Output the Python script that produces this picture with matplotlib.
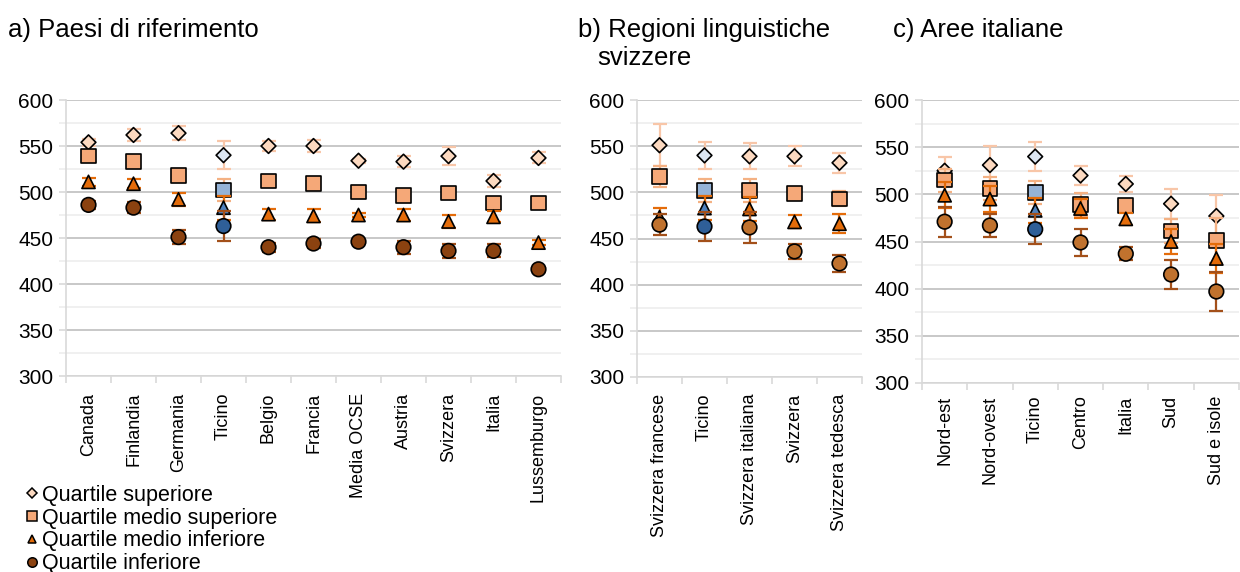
import numpy as np
import matplotlib.pyplot as plt
from matplotlib.lines import Line2D
from matplotlib.ticker import MultipleLocator

plt.rcParams["font.family"] = ["Liberation Sans", "DejaVu Sans"]

# ---- data ----
series = ["Quartile superiore", "Quartile medio superiore",
          "Quartile medio inferiore", "Quartile inferiore"]

cat_a = ["Canada", "Finlandia", "Germania", "Ticino", "Belgio", "Francia",
         "Media OCSE", "Austria", "Svizzera", "Italia", "Lussemburgo"]
sup_a = [554, 562, 564, 540, 550, 550, 534, 533, 539, 512, 537]
msup_a = [539, 533, 518, 502, 512, 509, 500, 496, 499, 488, 488]
minf_a = [511, 509, 492, 483, 476, 474, 475, 475, 468, 473, 445]
inf_a = [486, 483, 451, 463, 440, 444, 446, 440, 436, 436, 416]
err_sup_a = [4, 7, 8, 15, 5, 7, 2, 6, 10, 7, 6]
err_msup_a = [3, 3, 7, 12, 3, 3, 2, 3, 3, 4, 3]
err_minf_a = [4, 5, 7, 13, 6, 7, 2, 7, 7, 6, 3]
err_inf_a = [4, 6, 8, 16, 5, 5, 2, 7, 8, 7, 3]

cat_b = ["Svizzera francese", "Ticino", "Svizzera italiana", "Svizzera",
         "Svizzera tedesca"]
sup_b = [551, 540, 539, 539, 532]
msup_b = [517, 502, 502, 499, 493]
minf_b = [473, 483, 482, 468, 466]
inf_b = [465, 463, 462, 436, 423]
err_sup_b = [23, 15, 14, 11, 11]
err_msup_b = [11, 12, 12, 3, 8]
err_minf_b = [10, 13, 13, 7, 10]
err_inf_b = [11, 16, 17, 8, 9]

cat_c = ["Nord-est", "Nord-ovest", "Ticino", "Centro", "Italia", "Sud",
         "Sud e isole"]
sup_c = [525, 531, 540, 520, 511, 490, 477]
msup_c = [515, 506, 502, 489, 488, 461, 451]
minf_c = [499, 495, 483, 485, 474, 450, 432]
inf_c = [471, 467, 463, 449, 437, 415, 397]
err_sup_c = [15, 20, 15, 10, 8, 16, 22]
err_msup_c = [12, 12, 12, 12, 4, 13, 24]
err_minf_c = [14, 14, 13, 10, 6, 13, 15]
err_inf_c = [16, 12, 16, 14, 7, 15, 21]

# ---- styles ----
markers = ["D", "s", "^", "o"]
msizes = [7.5, 10.5, 9.5, 10.5]
fill_orange = ["#FCD9C0", "#F5A878", "#E46C0A", "#8B4210"]
fill_orange_bc = ["#FCD9C0", "#F5A878", "#E46C0A", "#C0722E"]
fill_blue = ["#DCE6F2", "#95B3D7", "#4F81BD", "#2F5F98"]
err_colors = ["#F8C6A8", "#F4B183", "#E46C0A", "#A3501A"]

W, H = 1240, 572
fig = plt.figure(figsize=(W / 100, H / 100), dpi=100)


def add_ax(left, right, top, bottom):
    return fig.add_axes([left / W, 1 - bottom / H, (right - left) / W, (bottom - top) / H])


def draw_panel(ax, cats, vals, errs, fills, pad):
    x = np.arange(len(cats))
    for k in range(4):
        ax.errorbar(x, vals[k], yerr=errs[k], fmt="none", ecolor=err_colors[k],
                    elinewidth=1.6, capsize=5, capthick=1.6, zorder=3 + 2 * k)
        face = [fill_blue[k] if c == "Ticino" else fills[k] for c in cats]
        ax.scatter(x, vals[k], marker=markers[k], s=msizes[k] ** 2, c=face,
                   edgecolors="black", linewidths=1.2, zorder=4 + 2 * k)
    ax.set_xlim(-0.5, len(cats) - 0.5)
    ax.set_ylim(300, 600)
    ax.yaxis.set_major_locator(MultipleLocator(50))
    ax.yaxis.set_minor_locator(MultipleLocator(25))
    ax.grid(axis="y", which="major", color="#BFBFBF", lw=1.2)
    ax.grid(axis="y", which="minor", color="#EDEDED", lw=1.2)
    ax.set_axisbelow(True)
    ax.set_xticks(x)
    ax.set_xticklabels(cats, rotation=90, fontsize=13, va="top", ha="center")
    ax.set_xticks(np.arange(len(cats) + 1) - 0.5, minor=True)
    ax.tick_params(axis="x", which="major", length=0, pad=pad)
    ax.tick_params(axis="x", which="minor", length=5, color="#D9D9D9", width=1.2)
    ax.tick_params(axis="y", which="major", length=5, color="#D9D9D9", width=1.2,
                   labelsize=15, pad=4)
    ax.tick_params(axis="y", which="minor", length=5, color="#EDEDED", width=1.2)
    for s in ["top", "right"]:
        ax.spines[s].set_visible(False)
    for s in ["left", "bottom"]:
        ax.spines[s].set_color("#D9D9D9")
        ax.spines[s].set_linewidth(1.2)


ax_a = add_ax(66, 561, 100, 376)
draw_panel(ax_a, cat_a, [sup_a, msup_a, minf_a, inf_a],
           [err_sup_a, err_msup_a, err_minf_a, err_inf_a], fill_orange, 12)

ax_b = add_ax(637, 862, 100, 377)
draw_panel(ax_b, cat_b, [sup_b, msup_b, minf_b, inf_b],
           [err_sup_b, err_msup_b, err_minf_b, err_inf_b], fill_orange_bc, 12)

ax_c = add_ax(922, 1239, 100, 383)
draw_panel(ax_c, cat_c, [sup_c, msup_c, minf_c, inf_c],
           [err_sup_c, err_msup_c, err_minf_c, err_inf_c], fill_orange_bc, 9)

# titles
tsize = 18.5
fig.text(8 / W, 1 - 30 / H, "a) Paesi di riferimento", fontsize=tsize, va="center")
fig.text(578 / W, 1 - 30 / H, "b) Regioni linguistiche", fontsize=tsize, va="center")
fig.text(597 / W, 1 - 58 / H, "svizzere", fontsize=tsize, va="center")
fig.text(893 / W, 1 - 30 / H, "c) Aree italiane", fontsize=tsize, va="center")

# legend
handles = [Line2D([], [], ls="none", marker=markers[k], markersize=msizes[k] * 0.65,
                  markerfacecolor=fill_orange[k], markeredgecolor="black",
                  markeredgewidth=1.1) for k in range(4)]
fig.legend(handles, series, loc="upper left", bbox_to_anchor=(27 / W, 1 - 485 / H),
           frameon=False, fontsize=15.5, handlelength=0.5, handletextpad=0.2,
           labelspacing=0.08, borderaxespad=0, borderpad=0)

fig.savefig("out.png", dpi=100)
